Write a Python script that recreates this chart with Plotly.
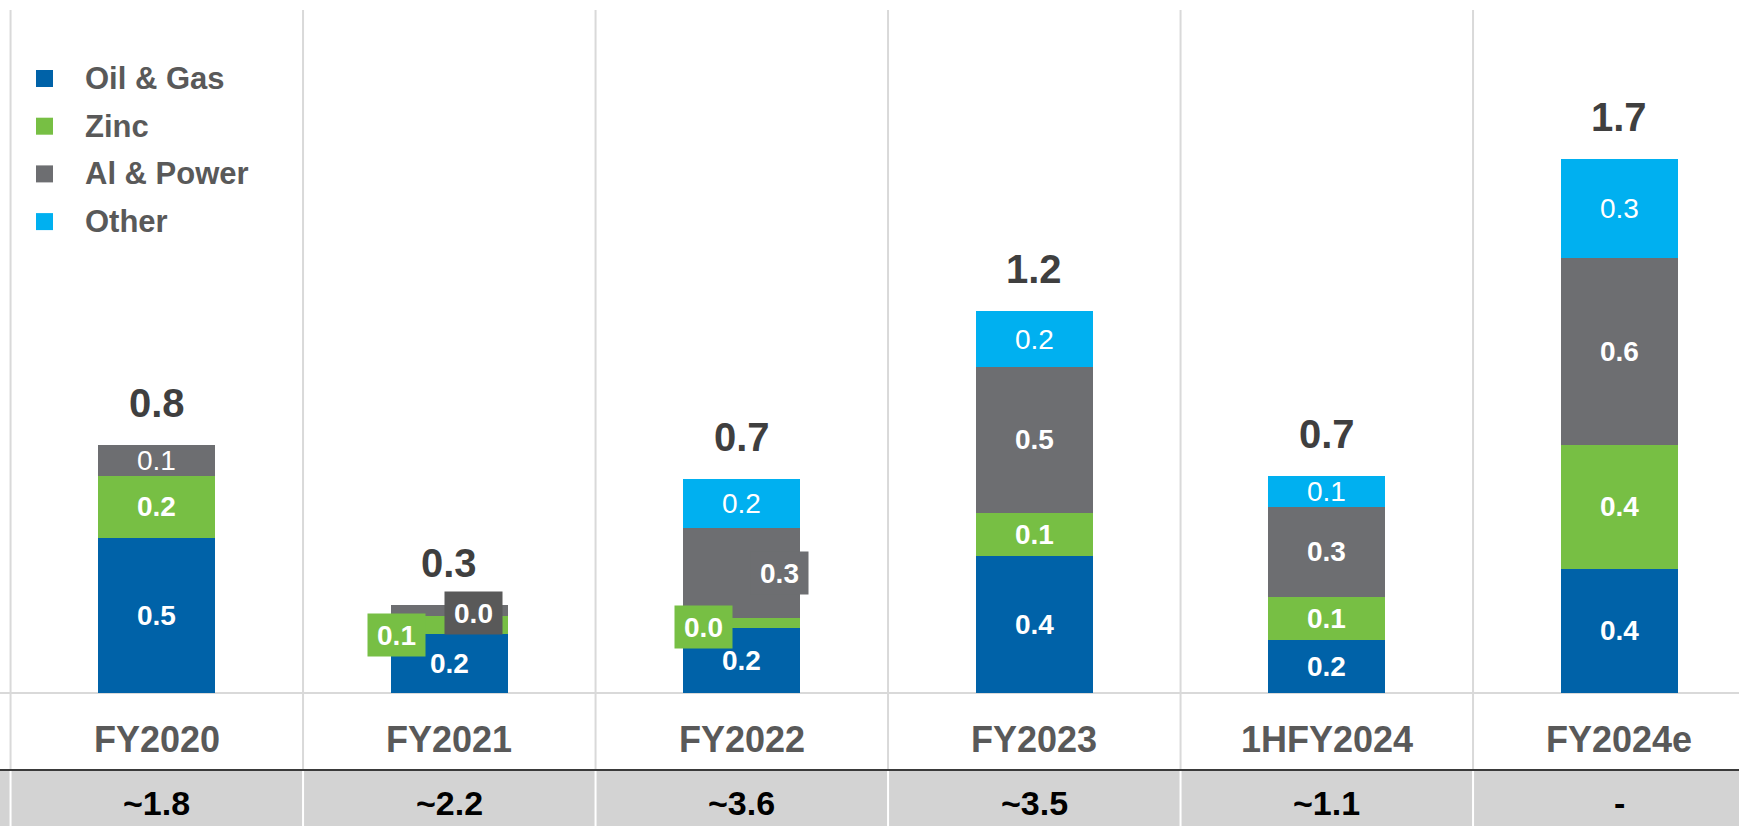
import plotly.graph_objects as go

# ---- data -------------------------------------------------------------
categories = ["FY2020", "FY2021", "FY2022", "FY2023", "1HFY2024", "FY2024e"]
oil_gas = [0.50, 0.19, 0.21, 0.44, 0.17, 0.40]
zinc = [0.20, 0.057, 0.03, 0.14, 0.14, 0.40]
al_power = [0.10, 0.035, 0.29, 0.47, 0.29, 0.60]
other = [None, None, 0.16, 0.18, 0.10, 0.32]
bottom_row = ["~1.8", "~2.2", "~3.6", "~3.5", "~1.1", "-"]

series_names = ["Oil & Gas", "Zinc", "Al & Power", "Other"]
series_values = [oil_gas, zinc, al_power, other]
series_colors = ["#0062A8", "#77BF44", "#6D6E71", "#00B0F0"]

# ---- styling ------------------------------------------------------------
W, H = 1739, 826
FONT = "Liberation Sans, Arial, sans-serif"
GRID = "#D9D9D9"
LABEL_GREY = "#595959"

# plot area: baseline at 693 px, top at 10 px, 310.5 px per unit
PLOT_BOTTOM_PX, PLOT_TOP_PX, PX_PER_UNIT = 693, 10, 310.5
BAND_TOP_PX = 770
COL_PX = 292.5
FIRST_CENTER_PX = 156.8


def paper_y(px):
    return (H - px) / H


def paper_x(px):
    return px / W


x_range = [-FIRST_CENTER_PX / COL_PX, (W - FIRST_CENTER_PX) / COL_PX]
y_range = [0, (PLOT_BOTTOM_PX - PLOT_TOP_PX) / PX_PER_UNIT]

# labels drawn in a box beside a thin segment: (dx px, dy px, box colour)
boxed_labels = {
    ("Zinc", "FY2021"): (-53, -10, "#77BF44"),
    ("Al & Power", "FY2021"): (24, -2, "#595959"),
    ("Zinc", "FY2022"): (-38, -4, "#77BF44"),
    ("Al & Power", "FY2022"): (38, 0, "#6D6E71"),
}
# labels set in regular weight
light_labels = {("Al & Power", "FY2020")} | {("Other", c) for c in categories}

fig = go.Figure()
for name, vals, color in zip(series_names, series_values, series_colors):
    fig.add_trace(go.Bar(
        x=categories, y=vals, name=name, width=0.4,
        marker=dict(color=color, line=dict(width=0)),
        showlegend=False, hoverinfo="skip",
    ))

annotations = []
shapes = []

# segment value labels
base = [0.0] * len(categories)
for name, vals in zip(series_names, series_values):
    for i, (cat, v) in enumerate(zip(categories, vals)):
        if v is None:
            continue
        center = base[i] + v / 2
        base[i] += v
        weight = "normal" if (name, cat) in light_labels else "bold"
        ann = dict(
            x=cat, y=center, xref="x", yref="y", text=f"{v:.1f}",
            showarrow=False, xanchor="center", yanchor="middle",
            font=dict(family=FONT, size=28, color="white", weight=weight),
        )
        if (name, cat) in boxed_labels:
            dx, dy, box = boxed_labels[(name, cat)]
            ann.update(xshift=dx, yshift=dy, bgcolor=box, borderpad=5,
                       width=47, height=32)
        annotations.append(ann)

# totals above each stack
for cat, total in zip(categories, base):
    annotations.append(dict(
        x=cat, y=total, xref="x", yref="y", text=f"{total:.1f}",
        showarrow=False, xanchor="center", yanchor="middle", yshift=42,
        font=dict(family=FONT, size=40, color="#3F3F3F", weight="bold"),
    ))

# category labels and the bottom table row
for cat, val in zip(categories, bottom_row):
    annotations.append(dict(
        x=cat, y=paper_y(739), xref="x", yref="paper", text=cat,
        showarrow=False, xanchor="center", yanchor="middle",
        font=dict(family=FONT, size=36, color=LABEL_GREY, weight="bold"),
    ))
    annotations.append(dict(
        x=cat, y=paper_y(803), xref="x", yref="paper", text=val,
        showarrow=False, xanchor="center", yanchor="middle",
        font=dict(family=FONT, size=34, color="#000000", weight="bold"),
    ))

# legend
for i, (name, color) in enumerate(zip(series_names, series_colors)):
    cy = 78.5 + 47.7 * i
    shapes.append(dict(
        type="rect", xref="paper", yref="paper",
        x0=paper_x(36), x1=paper_x(53), y0=paper_y(cy + 8.5), y1=paper_y(cy - 8.5),
        fillcolor=color, line=dict(width=0), layer="above",
    ))
    annotations.append(dict(
        x=paper_x(83), y=paper_y(cy), xref="paper", yref="paper", text=name,
        showarrow=False, xanchor="left", yanchor="middle",
        font=dict(family=FONT, size=31, color=LABEL_GREY, weight="bold"),
    ))

# grey band for the bottom row
shapes.append(dict(
    type="rect", xref="paper", yref="paper", x0=0, x1=1,
    y0=0, y1=paper_y(BAND_TOP_PX), fillcolor="#D3D3D3",
    line=dict(width=0), layer="below",
))
shapes.append(dict(
    type="line", xref="paper", yref="paper", x0=0, x1=1,
    y0=paper_y(BAND_TOP_PX), y1=paper_y(BAND_TOP_PX),
    line=dict(color="#3A3A3A", width=2), layer="above",
))
# baseline
shapes.append(dict(
    type="line", xref="paper", yref="paper", x0=0, x1=1,
    y0=paper_y(PLOT_BOTTOM_PX), y1=paper_y(PLOT_BOTTOM_PX),
    line=dict(color=GRID, width=2), layer="below",
))
# column separators
for k in range(len(categories) + 1):
    xb = k - 0.5
    shapes.append(dict(
        type="line", xref="x", yref="paper", x0=xb, x1=xb,
        y0=paper_y(BAND_TOP_PX), y1=paper_y(PLOT_TOP_PX),
        line=dict(color=GRID, width=2), layer="below",
    ))
    shapes.append(dict(
        type="line", xref="x", yref="paper", x0=xb, x1=xb,
        y0=0, y1=paper_y(BAND_TOP_PX + 1),
        line=dict(color="white", width=2), layer="above",
    ))

fig.update_layout(
    width=W, height=H,
    margin=dict(l=0, r=0, t=0, b=0, pad=0),
    barmode="stack", bargap=0,
    paper_bgcolor="white", plot_bgcolor="rgba(0,0,0,0)",
    xaxis=dict(range=x_range, visible=False, fixedrange=True, domain=[0, 1]),
    yaxis=dict(range=y_range, visible=False, fixedrange=True,
               domain=[paper_y(PLOT_BOTTOM_PX), paper_y(PLOT_TOP_PX)]),
    annotations=annotations, shapes=shapes,
    showlegend=False,
)

fig.write_html("out.html")
